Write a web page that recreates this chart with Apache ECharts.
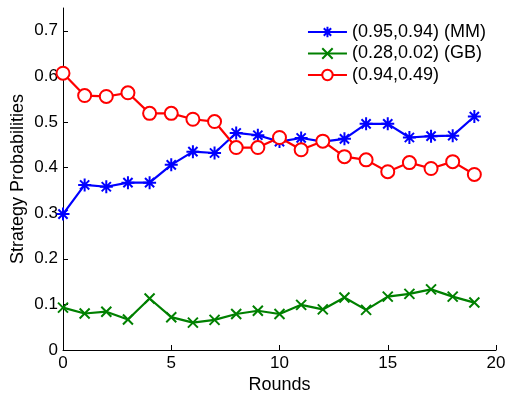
<!DOCTYPE html>
<html><head><meta charset="utf-8">
<script src="https://cdn.jsdelivr.net/npm/echarts@6/dist/echarts.min.js"></script>
<style>html,body{margin:0;padding:0;background:#fff}#c{width:508px;height:396px}</style>
</head><body><div id="c"></div>
<script>
const rounds = [0,1,2,3,4,5,6,7,8,9,10,11,12,13,14,15,16,17,18,19];
const seriesNames = ['(0.95,0.94) (MM)', '(0.28,0.02) (GB)', '(0.94,0.49)'];
const mmValues = [0.298,0.362,0.358,0.367,0.367,0.406,0.435,0.432,0.476,0.471,0.457,0.465,0.457,0.463,0.496,0.496,0.466,0.469,0.470,0.512];
const gbValues = [0.093,0.080,0.084,0.067,0.113,0.072,0.060,0.066,0.079,0.086,0.079,0.099,0.089,0.115,0.088,0.117,0.123,0.133,0.117,0.104];
const redValues = [0.607,0.558,0.556,0.564,0.519,0.519,0.506,0.501,0.444,0.444,0.466,0.439,0.458,0.424,0.417,0.391,0.411,0.398,0.413,0.385];
const xTicks = [0,5,10,15,20];
const yTicks = [0,0.1,0.2,0.3,0.4,0.5,0.6,0.7];

const pair = v => v.map((y,i)=>[rounds[i],y]);
const asterisk = 'path://M0,-10L0,10M-10,0L10,0M-7.07,-7.07L7.07,7.07M-7.07,7.07L7.07,-7.07';
const cross = 'path://M-10,-10L10,10M-10,10L10,-10';
const font = 'Liberation Sans, Arial, sans-serif';

const chart = echarts.init(document.getElementById('c'));
chart.setOption({
  animation:false,
  backgroundColor:'#fff',
  grid:{left:63,right:12,top:8,bottom:46,containLabel:false,outerBoundsMode:'none'},
  legend:{
    right:22, top:23, orient:'vertical', itemWidth:39, itemHeight:13, itemGap:3.5, padding:0,
    textStyle:{fontFamily:font,fontSize:18,color:'#000',lineHeight:18},
    data:seriesNames
  },
  xAxis:{
    type:'value', min:0, max:20, interval:5,
    name:'Rounds', nameLocation:'middle', nameGap:26, nameMoveOverlap:false,
    nameTextStyle:{fontFamily:font,fontSize:18,color:'#000'},
    axisLine:{lineStyle:{color:'#000',width:1}},
    axisTick:{inside:true,length:5,lineStyle:{color:'#000'}},
    axisLabel:{fontFamily:font,fontSize:17,color:'#000',margin:5,
      formatter:v=>xTicks.includes(v)?String(v):''},
    splitLine:{show:false}
  },
  yAxis:{
    type:'value', min:0, max:0.75, interval:0.1,
    name:'Strategy Probabilities', nameLocation:'middle', nameGap:36, nameMoveOverlap:false,
    nameTextStyle:{fontFamily:font,fontSize:18,color:'#000'},
    axisLine:{show:true,lineStyle:{color:'#000',width:1}},
    axisTick:{show:true,inside:true,length:5,lineStyle:{color:'#000'}},
    axisLabel:{fontFamily:font,fontSize:17,color:'#000',margin:5,showMaxLabel:false,
      formatter:v=>{const t=yTicks.find(t=>Math.abs(t-v)<1e-9);return t===undefined?'':(t===0?'0':String(t));}},
    splitLine:{show:false}
  },
  series:[
    {name:seriesNames[0],type:'line',data:pair(mmValues),symbol:asterisk,symbolSize:13,
      lineStyle:{color:'#0000ff',width:2.2},itemStyle:{color:'#0000ff',borderColor:'#0000ff',borderWidth:2},z:2},
    {name:seriesNames[1],type:'line',data:pair(gbValues),symbol:cross,symbolSize:10,
      lineStyle:{color:'#008000',width:2.2},itemStyle:{color:'#008000',borderColor:'#008000',borderWidth:2},z:3},
    {name:seriesNames[2],type:'line',data:pair(redValues),symbol:'emptyCircle',symbolSize:13,
      lineStyle:{color:'#ff0000',width:2.2},itemStyle:{color:'#ff0000',borderColor:'#ff0000',borderWidth:2},z:4}
  ]
});
</script></body></html>
